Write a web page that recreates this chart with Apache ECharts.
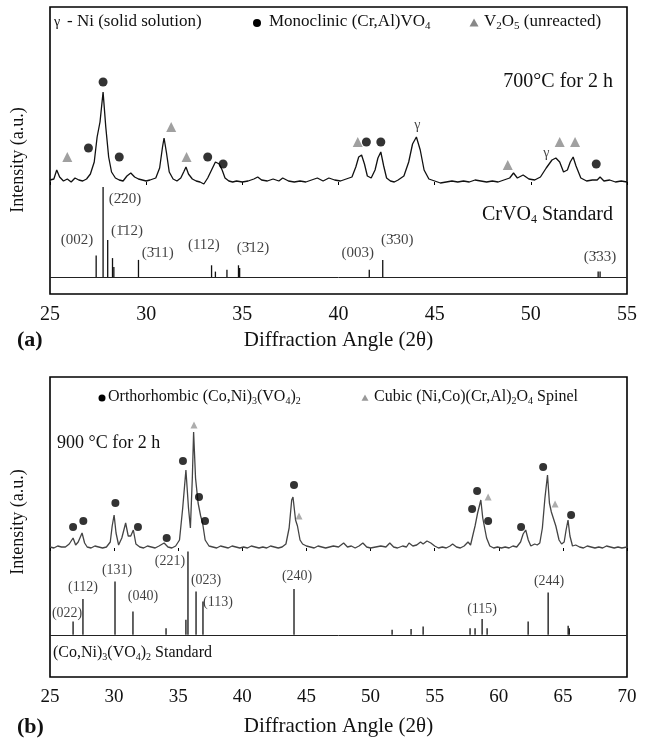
<!DOCTYPE html>
<html>
<head>
<meta charset="utf-8">
<script src="https://cdn.jsdelivr.net/npm/echarts@6/dist/echarts.min.js"></script>
<style>
html, body { margin: 0; padding: 0; background: #fff; }
#main { width: 647px; height: 741px; }
</style>
</head>
<body>
<div id="main"></div>
<script>
var SERIF = '"Liberation Serif", "Times New Roman", serif';

// ---- panel (a): 700 C for 2 h, CrVO4 standard ----
var ticksA = [25, 30, 35, 40, 45, 50, 55];
// measured pattern, [2theta, intensity a.u. above background]
var patternA = [
  [25.0,2],[25.2,3],[25.35,12],[25.5,5],[25.7,1],[25.9,3],[26.1,0],[26.3,4],[26.5,2],[26.7,1],
  [26.9,3],[27.1,8],[27.3,20],[27.45,45],[27.6,60],[27.76,90],[27.9,55],[28.05,25],[28.2,10],[28.4,4],
  [28.6,2],[28.8,1],[29.0,6],[29.2,9],[29.4,5],[29.6,3],[29.8,2],[30.0,1],[30.2,2],[30.5,4],
  [30.7,14],[30.85,35],[30.93,44],[31.05,30],[31.2,10],[31.4,3],[31.6,1],[31.8,4],[31.95,10],[32.07,15],
  [32.2,8],[32.4,3],[32.6,1],[32.8,0],[33.0,-2],[33.2,4],[33.4,12],[33.6,20],[33.8,18],[33.95,12],
  [34.1,4],[34.3,1],[34.5,0],[34.7,1],[35.0,0],[35.3,1],[35.6,3],[35.8,5],[36.0,2],[36.3,1],
  [36.6,3],[36.9,1],[37.1,4],[37.4,1],[37.7,0],[38.0,1],[38.3,0],[38.6,2],[38.9,4],[39.2,1],
  [39.5,4],[39.8,2],[40.1,1],[40.4,3],[40.7,5],[40.9,15],[41.05,25],[41.2,27],[41.35,18],[41.5,6],
  [41.7,4],[41.9,12],[42.05,24],[42.2,30],[42.35,16],[42.5,4],[42.7,1],[42.9,0],[43.1,2],[43.4,6],
  [43.65,20],[43.85,38],[44.05,45],[44.25,32],[44.45,12],[44.7,3],[45.0,1],[45.3,-1],[45.6,0],[45.9,1],
  [46.2,0],[46.5,1],[46.8,0],[47.1,2],[47.4,1],[47.7,0],[48.0,1],[48.3,0],[48.6,2],[48.9,4],
  [49.1,9],[49.3,4],[49.6,7],[49.9,3],[50.2,2],[50.5,5],[50.8,14],[51.1,22],[51.3,24],[51.5,20],
  [51.7,10],[51.9,12],[52.05,20],[52.2,25],[52.35,16],[52.6,4],[52.9,1],[53.2,2],[53.45,2],[53.6,5],
  [53.8,1],[54.1,2],[54.4,0],[54.7,1],[55.0,0]
];
// CrVO4 standard, [2theta, relative intensity]
var stickA = [
  [27.4,24],[27.76,100],[28.0,41],[28.25,21],[28.32,11],[29.6,19],[33.4,13],[33.6,6],[34.2,8],
  [34.8,13],[34.86,10],[41.6,8],[42.3,19],[53.5,6],[53.6,6]
];
var hklA = [
  [26.4,41,'(002)'],[28.9,87,'(2\u030420)'],[29.0,51,'(1\u030412)'],[30.6,27,'(3\u030411)'],
  [33.0,36,'(112)'],[35.55,32,'(3\u030412)'],[41.0,27,'(003)'],[43.05,41,'(3\u030430)'],[53.6,22,'(3\u030433)']
];
var dotsA = [[27.0,34],[27.76,100],[28.6,25],[33.2,25],[34.0,18],[41.45,40],[42.2,40],[53.4,18]];
var trisA = [[25.9,25],[31.3,55],[32.1,25],[41.0,40],[48.8,17],[51.5,40],[52.3,40]];
var gammaA = [[44.1,57],[50.8,29]];

// ---- panel (b): 900 C for 2 h, (Co,Ni)3(VO4)2 standard ----
var ticksB = [25, 30, 35, 40, 45, 50, 55, 60, 65, 70];
var patternB = [
  [25.0,1],[25.3,0],[25.6,2],[25.9,1],[26.2,1],[26.5,4],[26.8,10],[27.0,3],[27.2,6],[27.5,15],
  [27.7,5],[27.9,1],[28.2,0],[28.5,2],[28.8,1],[29.1,0],[29.4,1],[29.7,6],[29.85,22],[30.0,33],
  [30.15,15],[30.35,3],[30.6,10],[30.9,25],[31.1,12],[31.3,12],[31.5,18],[31.7,4],[32.0,1],[32.3,0],
  [32.6,2],[32.9,1],[33.2,0],[33.5,2],[33.9,5],[34.2,1],[34.5,0],[34.8,2],[35.1,8],[35.35,40],
  [35.6,78],[35.8,40],[35.95,20],[36.1,70],[36.2,116],[36.35,70],[36.55,45],[36.75,32],[36.9,25],[37.1,8],
  [37.4,2],[37.7,1],[38.0,0],[38.3,2],[38.6,1],[38.9,0],[39.2,2],[39.5,1],[39.8,0],[40.1,1],
  [40.4,0],[40.7,2],[41.0,1],[41.3,0],[41.6,1],[41.9,0],[42.2,2],[42.5,1],[42.8,0],[43.1,1],
  [43.4,4],[43.65,20],[43.85,48],[43.95,51],[44.15,28],[44.3,22],[44.5,8],[44.7,4],[45.0,2],[45.3,1],
  [45.6,0],[45.9,2],[46.2,1],[46.5,0],[46.8,1],[47.1,2],[47.5,1],[47.9,5],[48.2,1],[48.5,2],
  [48.8,0],[49.1,2],[49.4,5],[49.7,1],[50.0,0],[50.4,1],[50.8,2],[51.2,1],[51.5,5],[51.8,1],
  [52.1,0],[52.5,2],[52.8,1],[53.0,5],[53.3,2],[53.6,3],[53.9,6],[54.1,4],[54.4,7],[54.7,5],
  [55.0,2],[55.3,0],[55.6,1],[55.9,0],[56.2,2],[56.4,4],[56.7,1],[57.0,0],[57.3,2],[57.6,6],
  [57.8,3],[58.0,14],[58.15,22],[58.35,35],[58.6,48],[58.75,30],[58.9,20],[59.05,10],[59.3,2],[59.6,0],
  [59.9,1],[60.2,0],[60.5,1],[60.8,0],[61.1,2],[61.4,1],[61.7,6],[61.9,14],[62.1,18],[62.3,8],
  [62.5,2],[62.8,4],[63.0,3],[63.2,5],[63.4,20],[63.6,50],[63.8,73],[63.95,45],[64.1,36],[64.25,34],
  [64.45,22],[64.7,8],[64.9,4],[65.1,6],[65.25,18],[65.4,28],[65.55,12],[65.75,2],[66.0,3],[66.3,1],
  [66.6,0],[66.9,2],[67.2,1],[67.5,0],[67.8,1],[68.1,0],[68.4,2],[68.7,1],[69.0,0],[69.3,1],
  [69.6,0],[70.0,1]
];
var stickB = [
  [26.8,16],[27.57,43],[30.07,64],[31.47,28],[34.05,8],[35.6,18],[35.76,100],[36.39,52],[36.93,40],
  [44.03,55],[51.68,6],[53.16,7],[54.1,10],[57.76,8],[58.15,8],[58.7,19],[59.09,8],[62.29,16],
  [63.85,51],[65.41,11],[65.5,8]
];
var hklB = [
  [26.33,26,'(022)'],[27.57,57,'(112)'],[30.23,78,'(131)'],[32.25,46,'(040)'],[34.36,88,'(221)'],
  [37.17,66,'(023)'],[38.1,39,'(113)'],[44.27,70,'(240)'],[58.7,31,'(115)'],[63.92,64,'(244)']
];
var dotsB = [
  [26.8,21],[27.6,27],[30.1,45],[31.86,21],[34.1,10],[35.37,87],[36.62,51],[37.09,27],[44.03,63],
  [57.92,39],[58.31,57],[59.17,27],[61.74,21],[63.46,81],[65.64,33]
];
var trisB = [[36.23,123],[44.42,32],[59.17,51],[64.39,44]];

var chart = echarts.init(document.getElementById('main'));

function xAx(grid, ticks) {
  return {
    type: 'value', gridIndex: grid, min: ticks[0], max: ticks[ticks.length - 1], interval: 5,
    axisLine: { show: false },
    axisTick: { show: true, length: 3, lineStyle: { color: '#000' } },
    axisLabel: { fontFamily: SERIF, fontSize: grid === 0 ? 20 : 19, color: '#111', margin: 11 },
    splitLine: { show: false },
    name: 'Diffraction Angle (2\u03b8)', nameLocation: 'middle', nameGap: grid === 0 ? 36 : 39,
    nameTextStyle: { fontFamily: SERIF, fontSize: 21, color: '#111' }
  };
}
function yAx(grid, min, max) {
  return { type: 'value', gridIndex: grid, min: min, max: max, show: false };
}
function lineS(xi, yi, data, color) {
  return { type: 'line', xAxisIndex: xi, yAxisIndex: yi, data: data, symbol: 'none',
    lineStyle: { color: color, width: 1.3 }, z: 3 };
}
function stickS(xi, yi, data) {
  return { type: 'bar', xAxisIndex: xi, yAxisIndex: yi, data: data, barWidth: 1.3,
    itemStyle: { color: '#111' }, z: 2,
    markLine: { symbol: 'none', silent: true, label: { show: false },
      lineStyle: { color: '#222', width: 1, type: 'solid' }, data: [{ yAxis: 0 }] } };
}
function markS(xi, yi, data, symbol, size, color) {
  return { type: 'scatter', xAxisIndex: xi, yAxisIndex: yi, data: data, symbol: symbol,
    symbolSize: size, itemStyle: { color: color }, z: 5 };
}
function textS(xi, yi, data, size) {
  return { type: 'scatter', xAxisIndex: xi, yAxisIndex: yi, data: data, symbolSize: 1,
    itemStyle: { color: 'rgba(0,0,0,0)' }, z: 6,
    label: { show: true, position: 'inside', formatter: function (p) { return p.data[2]; },
      fontFamily: SERIF, fontSize: size, color: '#111' } };
}

function txt(x, y, text, size, extra) {
  var st = {
    text: text, fontFamily: SERIF, fontSize: size, fill: '#111',
    textAlign: 'left', align: 'left', textVerticalAlign: 'middle', verticalAlign: 'middle',
    rich: { s: { fontFamily: SERIF, fontSize: Math.round(size * 0.62), fill: '#111',
      padding: [Math.round(size * 0.5), 0, 0, 0] } }
  };
  var el = { type: 'text', x: x, y: y, style: st, z: 10 };
  if (extra) {
    if (extra.align) { st.textAlign = extra.align; st.align = extra.align; }
    if (extra.weight) st.fontWeight = extra.weight;
    if (extra.rotation) el.rotation = extra.rotation;
  }
  return el;
}
function tri(cx, cy, r, color) {
  return { type: 'polygon', z: 10,
    shape: { points: [[cx, cy - r], [cx + r, cy + r * 0.8], [cx - r, cy + r * 0.8]] },
    style: { fill: color } };
}

var gammaData = gammaA.map(function (g) { return [g[0], g[1], '\u03b3']; });

chart.setOption({
  animation: false,
  grid: [
    { left: 50, right: 20, top: 7, height: 287, show: true, borderColor: '#000', borderWidth: 1.6, backgroundColor: 'transparent' },
    { left: 50, right: 20, top: 377, height: 300, show: true, borderColor: '#000', borderWidth: 1.6, backgroundColor: 'transparent' }
  ],
  xAxis: [xAx(0, ticksA), xAx(1, ticksB)],
  yAxis: [yAx(0, -112, 175), yAx(0, -18.9, 300), yAx(1, -129, 171), yAx(1, -50.6, 309.6)],
  series: [
    lineS(0, 0, patternA, '#111'),
    stickS(0, 1, stickA),
    markS(0, 0, dotsA, 'circle', 9, '#000'),
    markS(0, 0, trisA, 'triangle', 10, '#888'),
    textS(0, 0, gammaData, 14),
    textS(0, 1, hklA, 15),
    lineS(1, 2, patternB, '#444'),
    stickS(1, 3, stickB),
    markS(1, 2, dotsB, 'circle', 8, '#000'),
    markS(1, 2, trisB, 'triangle', 7, '#999'),
    textS(1, 3, hklB, 14)
  ],
  graphic: [
    // legend (a)
    txt(54, 22, '\u03b3', 14),
    txt(67, 22, '- Ni (solid solution)', 17),
    { type: 'circle', shape: { cx: 257, cy: 23, r: 4 }, style: { fill: '#000' }, z: 10 },
    txt(269, 22, 'Monoclinic (Cr,Al)VO{s|4}', 17),
    tri(474, 23, 4.5, '#888'),
    txt(484, 22, 'V{s|2}O{s|5} (unreacted)', 17),
    txt(613, 82, '700\u00b0C for 2 h', 20, { align: 'right' }),
    txt(613, 215, 'CrVO{s|4} Standard', 20, { align: 'right' }),
    txt(17, 340, '(a)', 22, { weight: 'bold' }),
    txt(18, 160, 'Intensity (a.u.)', 18, { align: 'center', rotation: Math.PI / 2 }),
    // legend (b)
    { type: 'circle', shape: { cx: 102, cy: 398, r: 3.5 }, style: { fill: '#000' }, z: 10 },
    txt(108, 397, 'Orthorhombic (Co,Ni){s|3}(VO{s|4}){s|2}', 16),
    tri(365, 398, 3.5, '#999'),
    txt(374, 397, 'Cubic (Ni,Co)(Cr,Al){s|2}O{s|4} Spinel', 16),
    txt(57, 443, '900 \u00b0C for 2 h', 18),
    txt(53, 653, '(Co,Ni){s|3}(VO{s|4}){s|2} Standard', 16),
    txt(17, 727, '(b)', 22, { weight: 'bold' }),
    txt(18, 522, 'Intensity (a.u.)', 18, { align: 'center', rotation: Math.PI / 2 })
  ]
});
</script>
</body>
</html>
